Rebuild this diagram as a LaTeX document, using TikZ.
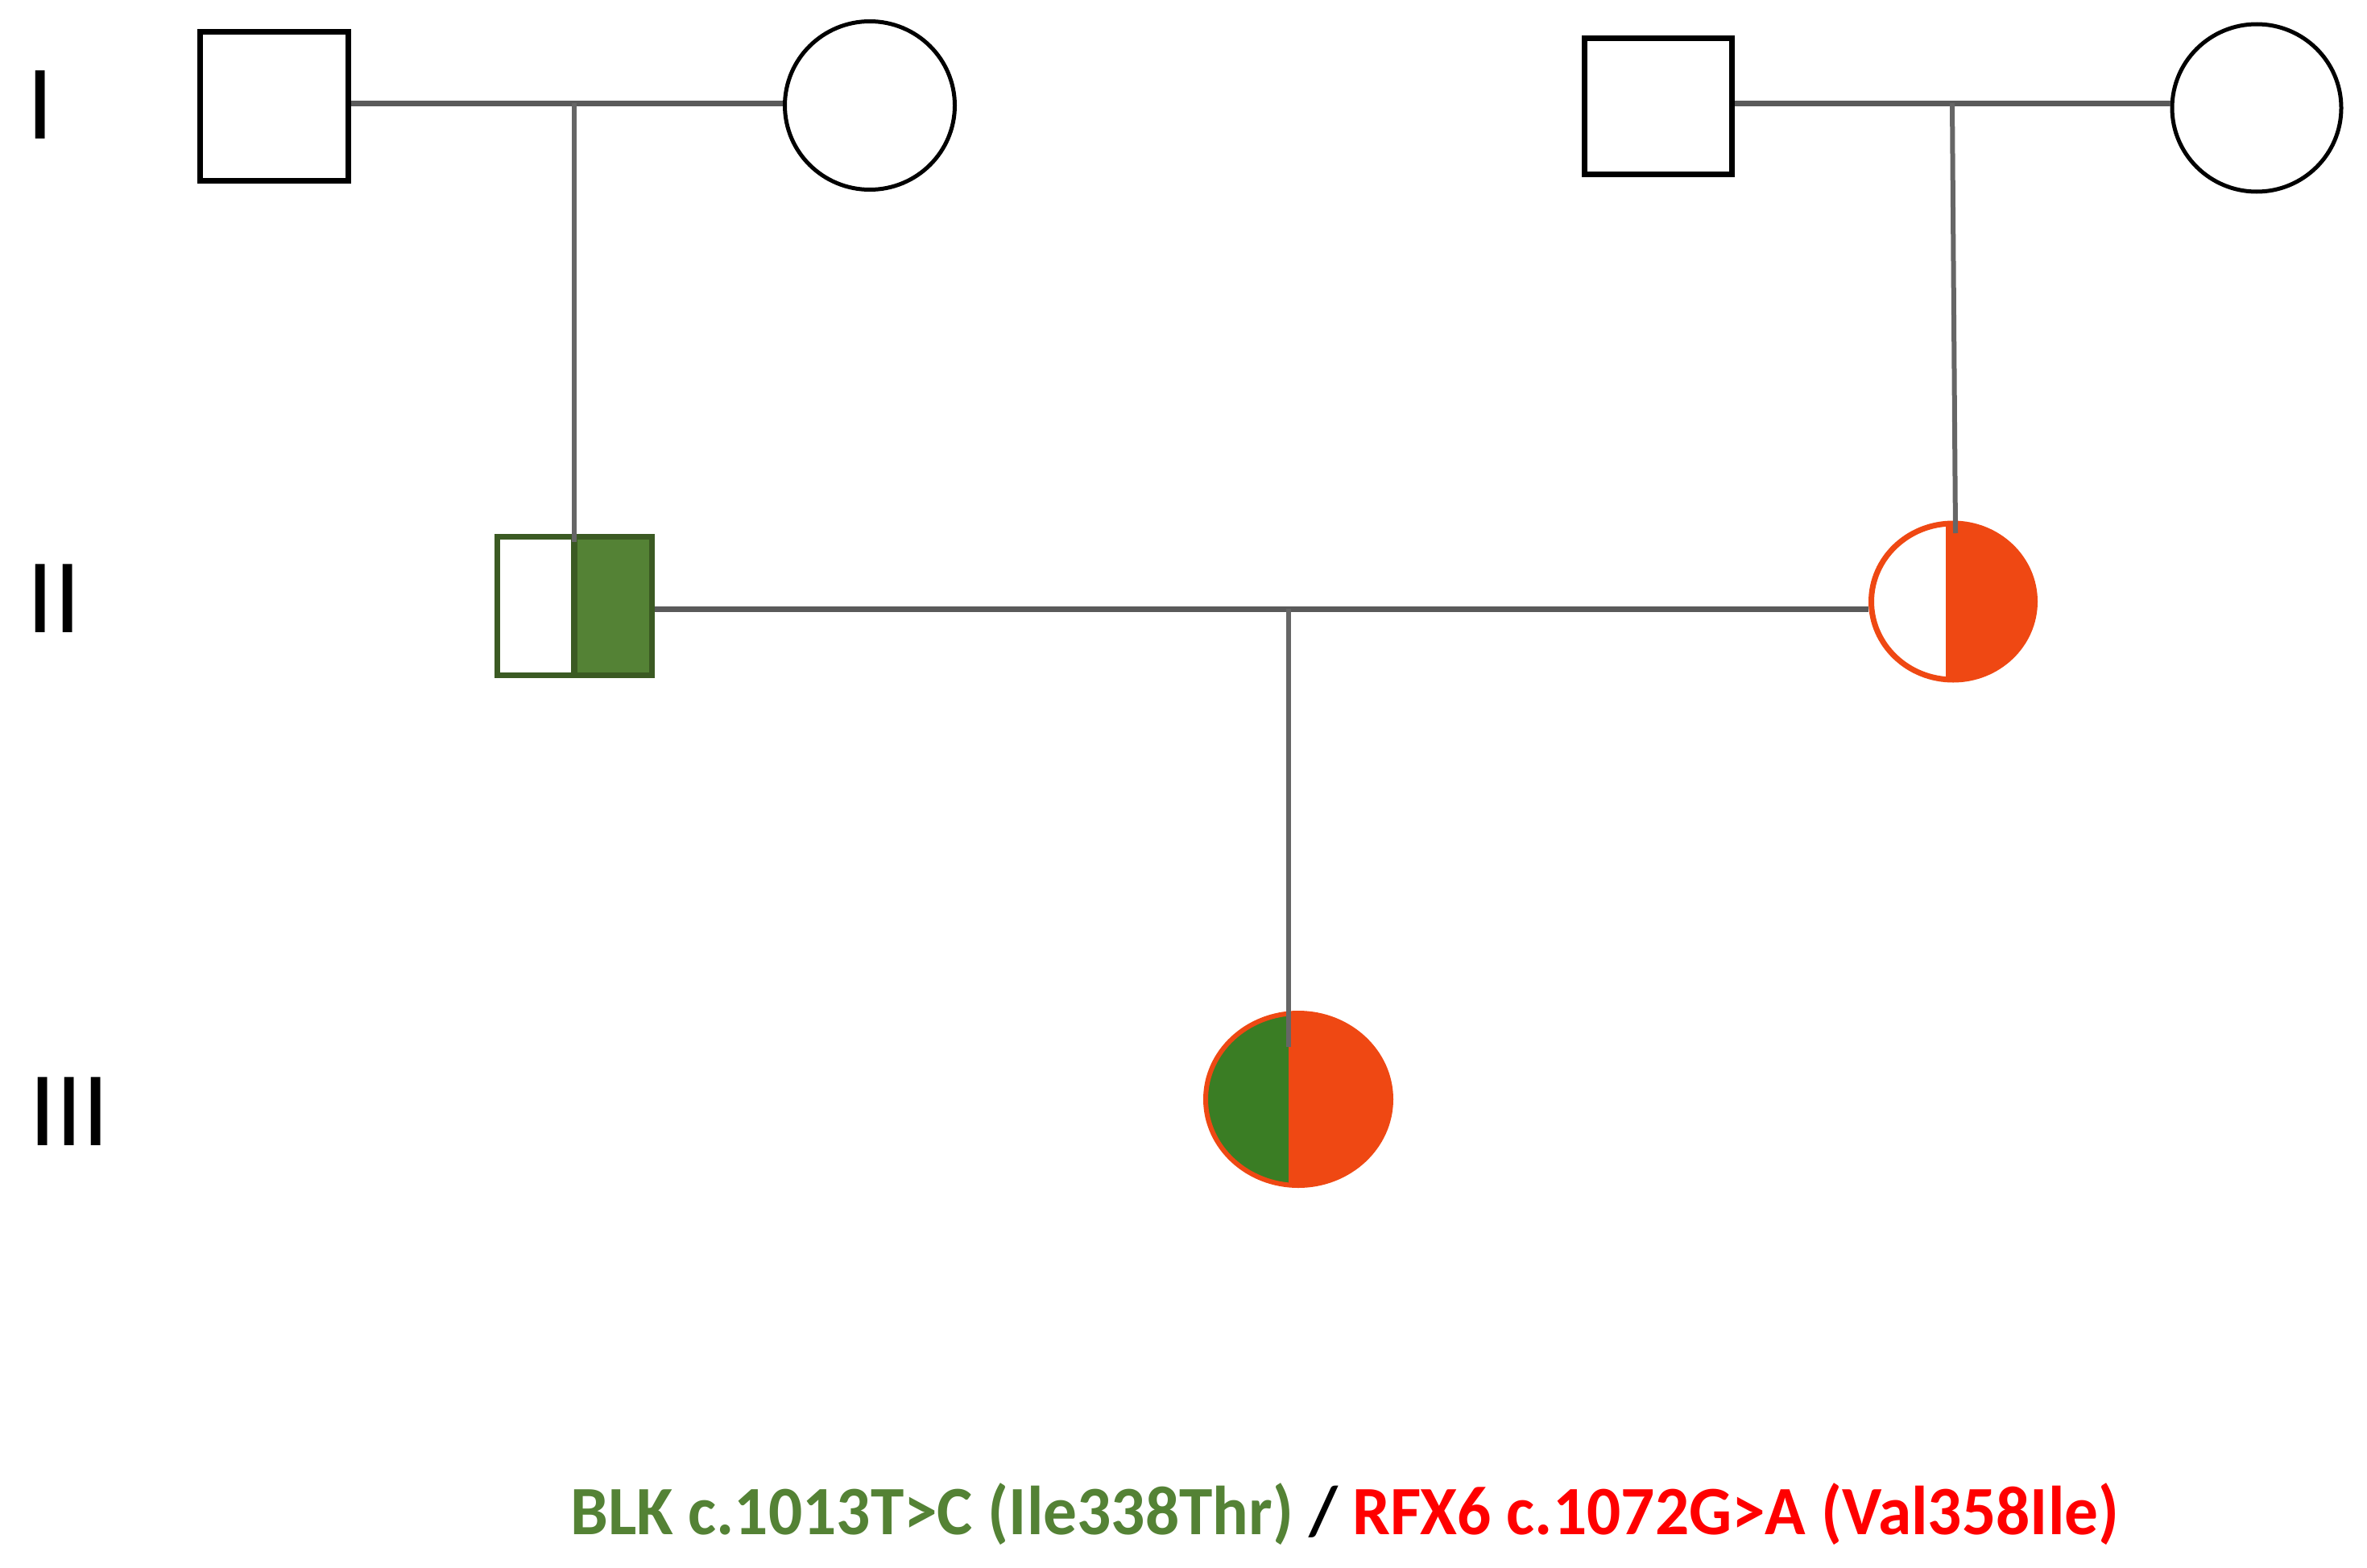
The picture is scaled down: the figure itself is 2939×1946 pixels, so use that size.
\documentclass[tikz,border=0pt]{standalone}
\usepackage{fontspec}
\setmainfont{Carlito}
\usetikzlibrary{shapes.geometric}
\definecolor{lgray}{HTML}{5A5A5A}
\definecolor{dgray}{HTML}{666666}
\definecolor{dkgreen}{HTML}{3B5A23}
\definecolor{mgreen}{HTML}{548235}
\definecolor{fgreen}{HTML}{3A7D24}
\definecolor{orng}{HTML}{EF4813}
\definecolor{txtgreen}{HTML}{548235}
\definecolor{txtred}{HTML}{FF0000}
\tikzset{
  male/.style={rectangle, draw=black, line width=7pt, inner sep=0pt, fill=white},
  female/.style={ellipse, draw=black, line width=5pt, inner sep=0pt, fill=white},
  marline/.style={draw=lgray, line width=7pt},
  descline/.style={draw=dgray, line width=6pt},
  gen/.style={font=\fontsize{132}{140}\selectfont, inner sep=0pt},
  legend/.style={font=\fontsize{86}{95}\selectfont\bfseries, inner sep=0pt, xscale=0.97, transform shape}
}
\begin{document}
\begin{tikzpicture}[x=1pt,y=-1pt]
\useasboundingbox[fill=white] (0,0) rectangle (2939,1946);

% generation labels
\node[gen] (gI) at (50,130) {I};
\node[gen] (gII) at (67,743) {II};
\node[gen] (gIII) at (86,1380) {III};

% generation I
\node[male, minimum width=184pt, minimum height=185pt] (I1) at (340,132) {};
\node[female, minimum width=211pt, minimum height=209pt] (I2) at (1080,131) {};
\node[male, minimum width=183pt, minimum height=169pt] (I3) at (2059,132) {};
\node[female, minimum width=210pt, minimum height=208pt] (I4) at (2802,134) {};

% generation II
\node[rectangle, draw=dkgreen, line width=7pt, inner sep=0pt, fill=white,
      minimum width=192pt, minimum height=172pt,
      path picture={
        \fill[mgreen] (path picture bounding box.north) rectangle (path picture bounding box.south east);
        \draw[dkgreen, line width=8pt] (path picture bounding box.north) -- (path picture bounding box.south);
      }] (II1) at (713,752) {};
\node[ellipse, draw=orng, line width=7pt, inner sep=0pt, fill=white,
      minimum width=203pt, minimum height=194pt,
      path picture={
        \fill[orng] ([xshift=-9pt]path picture bounding box.north) rectangle (path picture bounding box.south east);
        \draw[white, line width=2pt] ([xshift=-10pt]path picture bounding box.north) -- ([xshift=-10pt]path picture bounding box.south);
      }] (II2) at (2425,747) {};

% generation III
\node[ellipse, draw=orng, line width=6pt, inner sep=0pt, fill=orng,
      minimum width=230pt, minimum height=214pt,
      path picture={
        \fill[fgreen] ([xshift=-12pt]path picture bounding box.north) rectangle (path picture bounding box.south west);
      }] (III1) at (1612,1365) {};

% couple and descent lines
\coordinate (m1) at (713,128);
\coordinate (m2) at (2424,128);
\coordinate (m3) at (1600,756);
\coordinate (d1) at (713,673);
\coordinate (d2) at (2428,662);
\coordinate (d3) at (1600,1300);

\draw[marline] (I1.east |- m1) -- (I2.west |- m1);
\draw[marline] (I3.east |- m2) -- (I4.west |- m2);
\draw[descline] (m1) -- (d1);
\draw[descline] (m2) -- (d2);
\draw[marline] (II1.east |- m3) -- (II2.west |- m3);
\draw[descline] (m3) -- (d3);

% legend
\node[legend, anchor=base west] (leg) at (708,1905)
  {\textcolor{txtgreen}{BLK c.1013T>C (Ile338Thr)} \textcolor{black}{/} \textcolor{txtred}{RFX6 c.1072G>A (Val358Ile)}};
\end{tikzpicture}
\end{document}
